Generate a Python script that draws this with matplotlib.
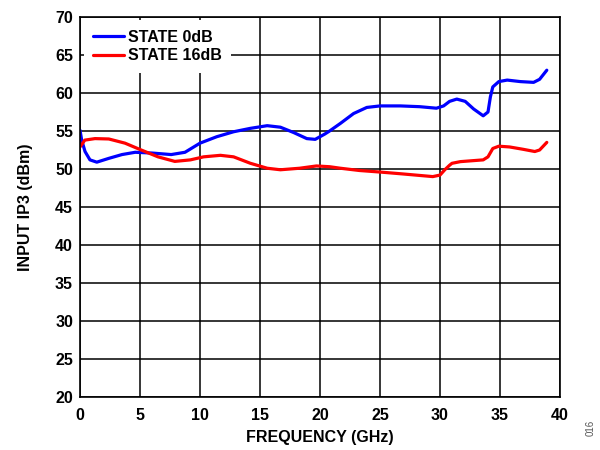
import matplotlib
matplotlib.use("Agg")
import matplotlib.pyplot as plt

plt.rcParams['font.family'] = ['Liberation Sans', 'DejaVu Sans']

freq_0db = [0, 0.14, 0.42, 0.83, 1.4, 2.4, 3.5, 4.6, 6.0, 7.6, 8.75, 10.0, 11.4, 12.8, 14.2, 15.6,
            16.7, 17.8, 18.9, 19.6, 20.4, 20.8, 21.7, 22.8, 23.9, 25.0, 26.7, 28.3, 29.7, 30.3,
            30.8, 31.4, 32.1, 32.8, 33.6, 34.0, 34.2, 34.4, 34.9, 35.6, 36.7, 37.8, 38.3, 38.9]
iip3_0db = [55.1, 53.8, 52.3, 51.2, 50.9, 51.4, 51.9, 52.2, 52.1, 51.9, 52.2, 53.4, 54.25, 54.9, 55.35, 55.7,
            55.5, 54.8, 54.0, 53.9, 54.6, 55.0, 56.0, 57.3, 58.1, 58.3, 58.3, 58.2, 58.0, 58.3,
            58.9, 59.2, 58.9, 57.9, 57.0, 57.5, 59.5, 60.8, 61.5, 61.7, 61.5, 61.4, 61.8, 63.0]

freq_16db = [0, 0.4, 1.25, 2.4, 3.75, 5.1, 6.5, 7.9, 9.2, 10.3, 11.7, 12.8, 14.2, 15.6, 16.7, 18.3,
             19.7, 20.8, 21.7, 23.3, 25.0, 26.9, 29.4, 30.0, 30.4, 30.8, 31.0, 31.7, 33.6, 34.0,
             34.4, 34.9, 35.8, 36.9, 37.9, 38.3, 38.9]
iip3_16db = [52.9, 53.8, 54.0, 53.95, 53.4, 52.5, 51.6, 51.0, 51.2, 51.6, 51.8, 51.6, 50.75, 50.1, 49.9, 50.1,
             50.4, 50.3, 50.1, 49.8, 49.6, 49.35, 49.0, 49.2, 49.9, 50.5, 50.75, 50.97, 51.2, 51.6,
             52.7, 53.0, 52.9, 52.6, 52.3, 52.5, 53.5]

x_ticks = [0, 5, 10, 15, 20, 25, 30, 35, 40]
y_ticks = [20, 25, 30, 35, 40, 45, 50, 55, 60, 65, 70]

fig = plt.figure(figsize=(6, 4.5), dpi=100)
ax = fig.add_axes([80/600, 53/450, 480/600, 380/450])

ax.plot(freq_0db, iip3_0db, color='#0000ff', lw=2.3, label='STATE 0dB',
        solid_capstyle='round', solid_joinstyle='round')
ax.plot(freq_16db, iip3_16db, color='#ff0000', lw=2.3, label='STATE 16dB',
        solid_capstyle='round', solid_joinstyle='round')

ax.set_xlim(0, 40)
ax.set_ylim(20, 70)
ax.set_xticks(x_ticks)
ax.set_yticks(y_ticks)
ax.grid(True, color='black', lw=1.1)
ax.set_axisbelow(True)
for s in ax.spines.values():
    s.set_color('black')
    s.set_linewidth(1.2)
ax.tick_params(length=0, labelsize=11.5)
ax.tick_params(axis='x', pad=8)
ax.tick_params(axis='y', pad=5)
for lab in ax.get_xticklabels() + ax.get_yticklabels():
    lab.set_fontweight('bold')

ax.set_xlabel('FREQUENCY (GHz)', fontsize=11.5, fontweight='bold', labelpad=5)
ax.set_ylabel('INPUT IP3 (dBm)', fontsize=11.5, fontweight='bold', labelpad=16)

leg = ax.legend(loc='upper left', bbox_to_anchor=(0.008, 0.992), frameon=True, handlelength=1.9,
                handletextpad=0.25, borderaxespad=0.0, borderpad=0.6, labelspacing=0.22,
                prop={'weight': 'bold', 'size': 11.5})
leg.get_frame().set_edgecolor('none')
leg.get_frame().set_facecolor('white')
leg.get_frame().set_alpha(1)

fig.text(0.985, 0.03, '016', rotation=90, fontsize=7, color='#555555', ha='center', va='bottom')

fig.savefig('out.png', dpi=100)
